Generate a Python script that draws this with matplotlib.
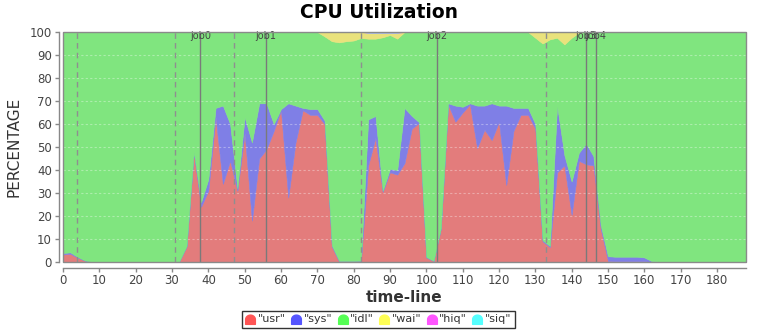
import numpy as np
import matplotlib
matplotlib.use("Agg")
import matplotlib.pyplot as plt
import matplotlib.path as mpath
from matplotlib.lines import Line2D
from matplotlib.patches import Rectangle

# ---------------- data ----------------
time = list(range(0, 189, 2))

usr = [3.3, 3.6, 1.9, 0.6, 0.1, 0.1, 0.1, 0.1, 0.1, 0.1,
       0.1, 0.1, 0.1, 0.1, 0.1, 0.1, 0.3, 6.7, 47.5, 24,
       31, 63, 34, 44, 31, 56, 18, 45, 49, 57,
       66, 28, 52, 66, 64, 64, 60, 6.7, 0.2, 0.2,
       0.2, 0.3, 42, 54, 30.5, 39, 38, 43, 58, 60.5,
       2, 0.4, 14.5, 68.5, 61, 65, 68.5, 49.5, 57.5, 53,
       61, 33.5, 57, 64, 64, 58, 9, 6.5, 39, 42,
       20.5, 44, 42.5, 42, 14.5, 0.5, 0.3, 0.3, 0.3, 0.3,
       0.3, 0.1, 0.1, 0.1, 0.1, 0.1, 0.1, 0.1, 0.1, 0.1,
       0.1, 0.1, 0.1, 0.1, 0.1]

sys_ = [0.6, 0.6, 0.3, 0.1, 0.0, 0.0, 0.0, 0.0, 0.0, 0.0,
        0.0, 0.0, 0.0, 0.0, 0.0, 0.0, 0.0, 0.2, 0.5, 2,
        5, 4, 34, 16, 1, 7, 34, 24, 20, 3,
        0.5, 41, 16, 1, 2.5, 2.5, 1.5, 0.5, 0.3, 0.3,
        0.3, 0.3, 20, 9.5, 0.5, 1.5, 2, 24, 5.5, 0.3,
        0.2, 0.1, 0.3, 0.5, 7, 2.5, 0.5, 18.5, 10.5, 16,
        7, 34.5, 10, 3, 3, 2, 0.5, 0.5, 29, 4.5,
        14.5, 3.5, 9, 4, 1.5, 2, 2, 2, 2, 2,
        1.7, 0.3, 0.1, 0.1, 0.1, 0.1, 0.1, 0.1, 0.1, 0.1,
        0.1, 0.1, 0.1, 0.1, 0.1]

wai = [0.0] * 95
wai_points = {72: 1.9, 74: 4.0, 76: 4.5, 78: 4.0, 80: 3.7, 82: 2.6, 84: 2.6,
              86: 2.6, 88: 2.0, 90: 1.0, 92: 2.6,
              130: 2.5, 132: 5.0, 134: 3.2, 136: 2.5, 138: 5.4, 140: 2.5, 142: 0.3}
for t, v in wai_points.items():
    wai[time.index(t)] = v

hiq = [0.0] * 95
siq = [0.0] * 95
for t in (84, 86, 88, 90, 92):
    siq[time.index(t)] = 0.3

idl = [100 - a - b - c - d - e for a, b, c, d, e in zip(usr, sys_, wai, hiq, siq)]

series_names = ['"usr"', '"sys"', '"idl"', '"wai"', '"hiq"', '"siq"']
boundary_x = [3.9, 30.9, 47.0, 81.9, 132.9]
job_x = [37.8, 55.8, 102.9, 144.0, 146.7]
job_labels = ["job0", "job1", "job2", "job3", "job4"]
y_ticks = list(range(0, 101, 10))
x_ticks = list(range(0, 181, 10))

# ---------------- styling ----------------
area_colors = ["#E37C7C", "#7F7FE6", "#80E57F", "#E9E27C", "#E57FE5", "#7FE5E5"]
legend_colors = ["#FF5555", "#5555FF", "#55FF55", "#FFFF55", "#FF55FF", "#55FFFF"]

fig = plt.figure(figsize=(7.57, 3.31), dpi=100)
ax = fig.add_axes([63 / 757, 1 - 262 / 331, (746 - 63) / 757, (262 - 32) / 331])

polys = ax.stackplot(time, usr, sys_, idl, wai, hiq, siq, colors=area_colors)
for p, c in zip(polys, area_colors):
    p.set_edgecolor(c)
    p.set_linewidth(0.4)

ax.set_xlim(0, 188)
ax.set_ylim(0, 100)

# horizontal faint grid
for yv in y_ticks[1:-1]:
    ax.axhline(yv, color="white", alpha=0.35, lw=0.8, ls=(0, (2, 2)), zorder=3)

for bx in boundary_x:
    ax.axvline(bx, color="#8f8f8f", lw=1.0, ls=(0, (4, 3)), zorder=4)
for jx, jl in zip(job_x, job_labels):
    ax.axvline(jx, color="#7a7a7a", lw=1.0, zorder=4)
    ax.text(jx, 96.0, jl, ha="center", va="bottom", fontsize=7, color="#444444", zorder=5)

# plot border
ax.add_patch(Rectangle((0, 0), 1, 1, transform=ax.transAxes, fill=False,
                       edgecolor="#8a8a8a", lw=1.0, zorder=6, clip_on=False))

for s in ("top", "right"):
    ax.spines[s].set_visible(False)
ax.spines["left"].set_position(("outward", 3))
ax.spines["bottom"].set_position(("outward", 4))
for s in ("left", "bottom"):
    ax.spines[s].set_color("#888888")
    ax.spines[s].set_linewidth(1.0)

ax.set_yticks(y_ticks)
ax.set_xticks(x_ticks)
ax.tick_params(axis="both", labelsize=8.5, colors="#888888", labelcolor="#444444",
               length=3, width=1, pad=2)

ax.set_ylabel("PERCENTAGE", fontsize=11, color="#333333", labelpad=6)
ax.set_xlabel("time-line", fontsize=11, fontweight="bold", color="#333333", labelpad=2)
fig.text(0.5, 1 - 12 / 331, "CPU Utilization", ha="center", va="center",
         fontsize=13.5, fontweight="bold", color="black")

# legend with dome markers
theta = np.linspace(0, np.pi, 24)
verts = [(1.0, -1.0)] + [(np.cos(t), np.sin(t) * 0.9) for t in theta] + [(-1.0, -1.0), (1.0, -1.0)]
dome = mpath.Path(verts, closed=True)
handles = [Line2D([], [], marker=dome, linestyle="none", markersize=7,
                  markerfacecolor=c, markeredgecolor=c) for c in legend_colors]
leg = fig.legend(handles, series_names, loc="center", bbox_to_anchor=(378.5 / 757, 1 - 319.5 / 331),
                 ncol=6, fontsize=8, frameon=True, fancybox=False, edgecolor="black",
                 handlelength=0.8, handletextpad=0.25, columnspacing=0.55, borderpad=0.35,
                 borderaxespad=0)
leg.get_frame().set_linewidth(1.0)
for t in leg.get_texts():
    t.set_color("#333333")

fig.savefig("out.png", dpi=100, facecolor="white")
